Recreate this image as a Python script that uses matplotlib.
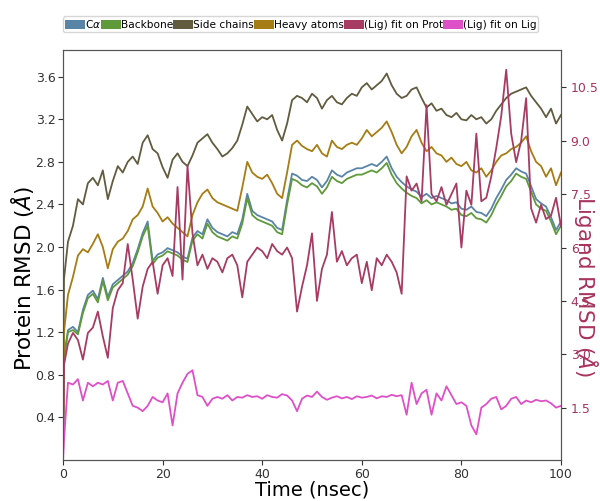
import numpy as np
import matplotlib
matplotlib.use("Agg")
import matplotlib.pyplot as plt
from matplotlib.patches import Patch

# time axis (nsec): frame 0, an early frame, then one sample per nsec
time = np.r_[0.0, 0.2, np.arange(1, 101)]

# protein RMSD (A) - left axis
side_chains = [0.0, 1.70,
    2.05, 2.20, 2.45, 2.40, 2.60, 2.65, 2.58, 2.72, 2.45, 2.62,
    2.76, 2.70, 2.80, 2.85, 2.78, 2.98, 3.05, 2.92, 2.88, 2.75,
    2.65, 2.82, 2.88, 2.80, 2.76, 2.86, 2.98, 3.02, 3.06, 2.98,
    2.92, 2.85, 2.88, 2.93, 3.00, 3.15, 3.32, 3.25, 3.18, 3.22,
    3.20, 3.24, 3.10, 3.00, 3.16, 3.38, 3.42, 3.40, 3.36, 3.44,
    3.40, 3.30, 3.38, 3.42, 3.36, 3.34, 3.40, 3.44, 3.42, 3.50,
    3.54, 3.48, 3.52, 3.56, 3.63, 3.52, 3.44, 3.40, 3.42, 3.48,
    3.50, 3.40, 3.31, 3.35, 3.28, 3.30, 3.24, 3.22, 3.26, 3.20,
    3.19, 3.24, 3.20, 3.22, 3.16, 3.20, 3.28, 3.34, 3.40, 3.44,
    3.46, 3.48, 3.50, 3.42, 3.36, 3.30, 3.22, 3.30, 3.16, 3.24]

heavy_atoms = [0.0, 1.20,
    1.55, 1.72, 1.92, 1.98, 1.95, 2.03, 2.12, 2.00, 1.80, 1.98,
    2.05, 2.08, 2.15, 2.26, 2.30, 2.38, 2.55, 2.38, 2.32, 2.24,
    2.28, 2.22, 2.18, 2.14, 2.10, 2.30, 2.42, 2.50, 2.54, 2.46,
    2.42, 2.40, 2.38, 2.36, 2.34, 2.56, 2.80, 2.70, 2.66, 2.64,
    2.68, 2.60, 2.50, 2.46, 2.70, 2.96, 3.00, 2.95, 2.92, 2.90,
    2.96, 2.88, 2.85, 3.00, 2.94, 2.92, 2.96, 2.98, 2.96, 3.02,
    3.10, 3.04, 3.08, 3.12, 3.18, 3.08, 2.96, 2.88, 2.94, 3.04,
    3.10, 2.98, 2.90, 2.94, 2.88, 2.86, 2.80, 2.84, 2.78, 2.76,
    2.80, 2.72, 2.70, 2.74, 2.66, 2.72, 2.80, 2.86, 2.88, 2.92,
    2.94, 2.98, 3.04, 2.90, 2.80, 2.76, 2.66, 2.74, 2.58, 2.70]

backbone = [0.0, 0.95,
    1.20, 1.22, 1.18, 1.38, 1.52, 1.56, 1.48, 1.68, 1.50, 1.62,
    1.66, 1.70, 1.74, 1.82, 1.95, 2.10, 2.20, 1.84, 1.90, 1.92,
    1.96, 1.94, 1.92, 1.88, 1.86, 2.06, 2.12, 2.08, 2.22, 2.14,
    2.10, 2.08, 2.06, 2.10, 2.08, 2.22, 2.46, 2.30, 2.26, 2.24,
    2.22, 2.20, 2.14, 2.12, 2.40, 2.64, 2.62, 2.58, 2.56, 2.60,
    2.57, 2.50, 2.56, 2.66, 2.62, 2.60, 2.64, 2.66, 2.68, 2.68,
    2.70, 2.72, 2.70, 2.74, 2.79, 2.68, 2.60, 2.55, 2.51, 2.48,
    2.46, 2.41, 2.44, 2.40, 2.42, 2.40, 2.38, 2.35, 2.36, 2.30,
    2.29, 2.32, 2.27, 2.26, 2.23, 2.30, 2.40, 2.48, 2.57, 2.62,
    2.69, 2.66, 2.64, 2.52, 2.40, 2.36, 2.34, 2.24, 2.12, 2.20]

c_alpha = [0.0, 0.97,
    1.22, 1.25, 1.20, 1.41, 1.55, 1.59, 1.51, 1.71, 1.53, 1.65,
    1.69, 1.73, 1.77, 1.85, 1.98, 2.13, 2.24, 1.87, 1.93, 1.95,
    1.99, 1.97, 1.95, 1.91, 1.89, 2.09, 2.15, 2.12, 2.26, 2.18,
    2.14, 2.12, 2.10, 2.14, 2.12, 2.26, 2.50, 2.34, 2.30, 2.28,
    2.26, 2.24, 2.18, 2.16, 2.44, 2.69, 2.67, 2.63, 2.62, 2.66,
    2.63, 2.56, 2.62, 2.72, 2.68, 2.66, 2.70, 2.72, 2.74, 2.74,
    2.76, 2.78, 2.76, 2.80, 2.85, 2.74, 2.66, 2.61, 2.57, 2.54,
    2.52, 2.47, 2.50, 2.46, 2.48, 2.46, 2.44, 2.41, 2.42, 2.36,
    2.35, 2.38, 2.33, 2.32, 2.29, 2.36, 2.46, 2.54, 2.63, 2.68,
    2.74, 2.71, 2.69, 2.57, 2.45, 2.41, 2.38, 2.28, 2.16, 2.24]

# ligand RMSD (A) - right axis
lig_on_prot = [0.0, 2.7,
    3.3, 3.6, 3.4, 2.85, 3.6, 3.75, 4.2, 3.5, 2.9, 4.3,
    4.8, 5.0, 6.1, 5.1, 4.0, 4.9, 5.4, 5.6, 4.7, 5.5,
    5.7, 5.2, 7.7, 5.1, 8.3, 6.4, 5.5, 5.8, 5.4, 5.7,
    5.6, 5.3, 5.7, 5.8, 5.5, 4.6, 5.6, 5.8, 6.0, 5.9,
    5.7, 6.1, 5.9, 5.8, 6.0, 5.7, 4.2, 4.9, 5.5, 6.4,
    4.5, 5.4, 5.8, 7.0, 5.6, 5.9, 5.5, 5.7, 5.8, 5.0,
    5.6, 4.8, 5.7, 5.5, 5.8, 5.6, 5.3, 4.7, 8.0, 7.6,
    7.8, 7.3, 10.0, 7.5, 7.3, 7.7, 7.2, 7.5, 7.8, 6.0,
    7.6, 7.2, 9.2, 7.3, 7.4, 8.0, 8.8, 9.7, 11.0, 9.2,
    8.4, 9.0, 10.2, 7.1, 6.7, 7.2, 6.8, 6.9, 7.4, 6.6]

lig_on_lig = [0.0, 0.6,
    2.2, 2.15, 2.3, 1.7, 2.2, 2.1, 2.2, 2.15, 2.25, 1.7,
    2.2, 2.25, 1.9, 1.55, 1.5, 1.4, 1.55, 1.8, 1.7, 1.65,
    1.9, 1.0, 1.9, 2.2, 2.45, 2.55, 1.85, 1.8, 1.55, 1.75,
    1.8, 1.75, 1.85, 1.7, 1.8, 1.78, 1.85, 1.8, 1.82, 1.75,
    1.85, 1.8, 1.78, 1.88, 1.84, 1.7, 1.4, 1.75, 1.84, 1.8,
    1.95, 1.8, 1.72, 1.78, 1.82, 1.76, 1.8, 1.74, 1.82, 1.78,
    1.8, 1.84, 1.76, 1.82, 1.8, 1.86, 1.82, 1.85, 1.3, 2.2,
    1.6, 1.9, 2.0, 1.3, 1.9, 1.7, 2.1, 1.85, 1.6, 1.65,
    1.55, 1.0, 0.75, 1.5, 1.6, 1.75, 1.8, 1.45, 1.55, 1.75,
    1.8, 1.6, 1.7, 1.65, 1.72, 1.68, 1.7, 1.62, 1.5, 1.55]

labels = [r'C$\alpha$', 'Backbone', 'Side chains', 'Heavy atoms',
          '(Lig) fit on Prot', '(Lig) fit on Lig']
colors = ['#5a84a6', '#5e9a3a', '#615c3f', '#a67c14', '#a63c62', '#de50c8']
lig_color = '#a8345e'

fig = plt.figure(figsize=(6.0, 5.01), dpi=100)
ax = fig.add_axes([0.105, 0.082, 0.83, 0.818])

ax.plot(time, c_alpha, color=colors[0], lw=1.3)
ax.plot(time, backbone, color=colors[1], lw=1.3)
ax.plot(time, side_chains, color=colors[2], lw=1.3)
ax.plot(time, heavy_atoms, color=colors[3], lw=1.3)
ax.set_xlim(0, 100)
ax.set_ylim(0.0, 3.85)
ax.set_yticks(np.arange(0.4, 3.7, 0.4))
ax.set_xticks(range(0, 101, 20))
ax.tick_params(labelsize=9, colors='#333333', pad=2)
ax.set_xlabel('Time (nsec)', fontsize=14, labelpad=0)
ax.set_ylabel(r'Protein RMSD ($\AA$)', fontsize=15.5)
ax.yaxis.label.set_va('center')
ax.yaxis.set_label_coords(-0.082, 0.443)

ax2 = ax.twinx()
ax2.plot(time, lig_on_prot, color=colors[4], lw=1.3)
ax2.plot(time, lig_on_lig, color=colors[5], lw=1.3)
ax2.set_ylim(0.03, 11.55)
ax2.set_yticks([1.5, 3.0, 4.5, 6.0, 7.5, 9.0, 10.5])
ax2.tick_params(labelsize=9, colors='#333333', labelcolor=lig_color)
ax2.set_ylabel(r'Ligand RMSD ($\AA$)', fontsize=15.5, color=lig_color, rotation=270)
ax2.yaxis.label.set_va('center')
ax2.yaxis.set_label_coords(1.05, 0.423)

for a in (ax, ax2):
    for s in a.spines.values():
        s.set_color('#555555')

handles = [Patch(facecolor=c, edgecolor='none') for c in colors]
ax.legend(handles, labels, ncol=6, loc='lower left', bbox_to_anchor=(0.0, 1.045),
          fontsize=7.6, handlelength=1.9, handleheight=1.0, handletextpad=0.0,
          columnspacing=0.0, borderpad=0.15, borderaxespad=0.0, frameon=True,
          fancybox=True)

fig.savefig('out.png', dpi=100)
